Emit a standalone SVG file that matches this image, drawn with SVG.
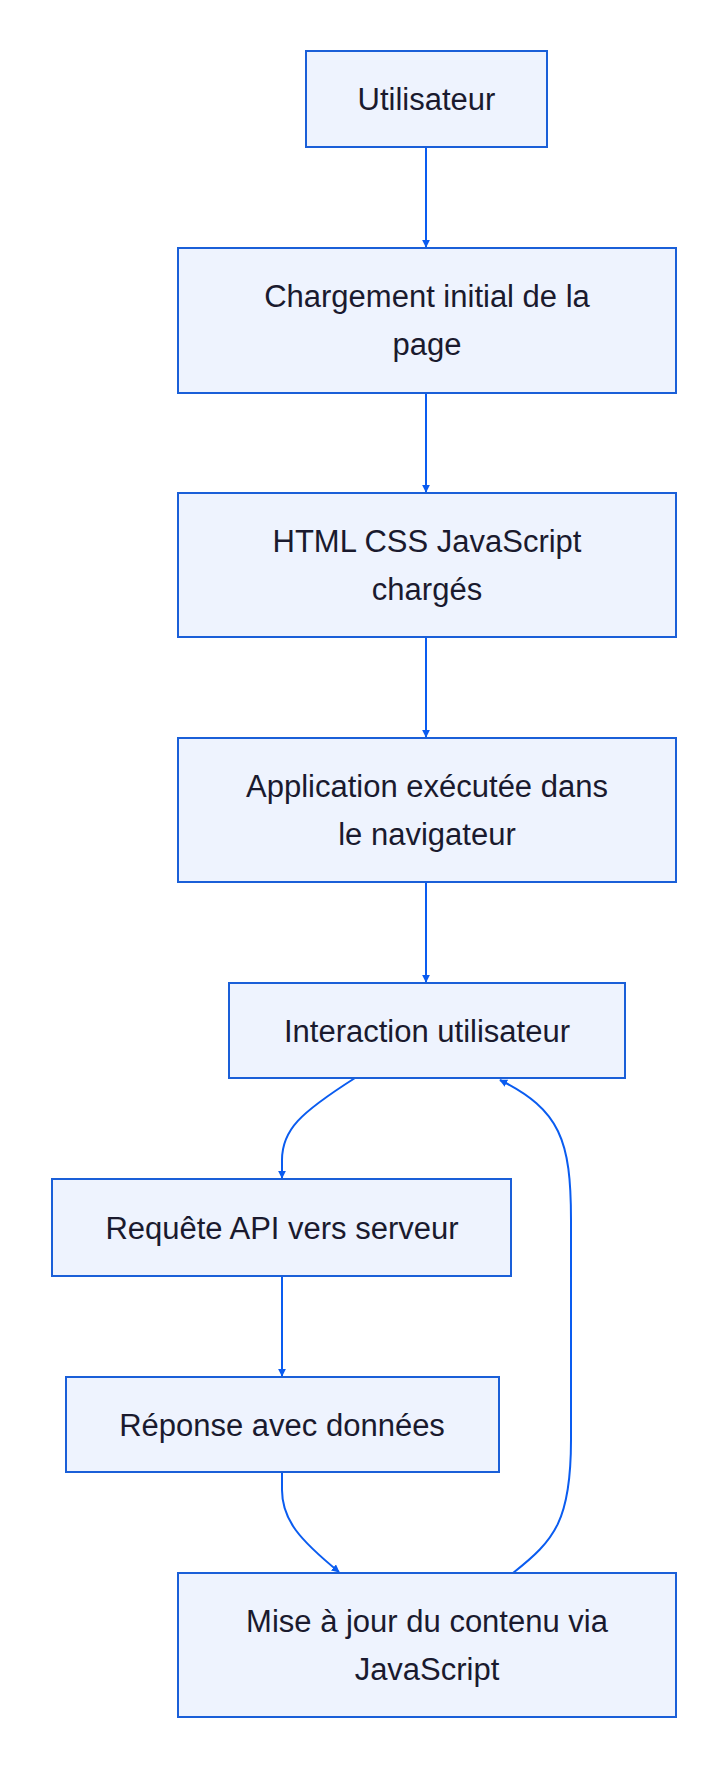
<svg xmlns="http://www.w3.org/2000/svg" width="726" height="1772" viewBox="0 0 726 1772">
<style>
.n rect{fill:#eef3fe;stroke:#1a5fd8;stroke-width:2}
.n text{font-family:"Liberation Sans",Arial,sans-serif;font-size:31px;fill:#1a1a2e;text-anchor:middle}
.e path{fill:none;stroke:#0a5cf0;stroke-width:2;marker-end:url(#a)}
</style>
<defs><marker id="a" viewBox="0 0 10 10" refX="9" refY="5" markerWidth="8" markerHeight="8" markerUnits="userSpaceOnUse" orient="auto"><path d="M0,0L10,5L0,10z" fill="#0a5cf0"/></marker></defs>
<rect width="726" height="1772" fill="#fff"/>
<g class="e">
<path d="M426,147V247"/>
<path d="M426,393V492"/>
<path d="M426,637V737"/>
<path d="M426,882V982"/>
<path d="M355,1078C300,1113 282,1130 282,1160V1178"/>
<path d="M282,1276V1376"/>
<path d="M282,1472V1490C282,1520 300,1540 339,1572"/>
<path d="M513,1573C555,1540 571,1520 571,1440V1220C571,1140 560,1110 500,1080"/>
</g>
<g id="n1" class="n"><rect x="306" y="51" width="241" height="96"/><text x="426.5" y="110">Utilisateur</text></g>
<g id="n2" class="n"><rect x="178" y="248" width="498" height="145"/><text x="427" y="307">Chargement initial de la</text><text x="427" y="355">page</text></g>
<g id="n3" class="n"><rect x="178" y="493" width="498" height="144"/><text x="427" y="552">HTML CSS JavaScript</text><text x="427" y="600">chargés</text></g>
<g id="n4" class="n"><rect x="178" y="738" width="498" height="144"/><text x="427" y="797">Application exécutée dans</text><text x="427" y="845">le navigateur</text></g>
<g id="n5" class="n"><rect x="229" y="983" width="396" height="95"/><text x="427" y="1042">Interaction utilisateur</text></g>
<g id="n6" class="n"><rect x="52" y="1179" width="459" height="97"/><text x="282" y="1239">Requête API vers serveur</text></g>
<g id="n7" class="n"><rect x="66" y="1377" width="433" height="95"/><text x="282" y="1436">Réponse avec données</text></g>
<g id="n8" class="n"><rect x="178" y="1573" width="498" height="144"/><text x="427" y="1632">Mise à jour du contenu via</text><text x="427" y="1680">JavaScript</text></g>
</svg>
